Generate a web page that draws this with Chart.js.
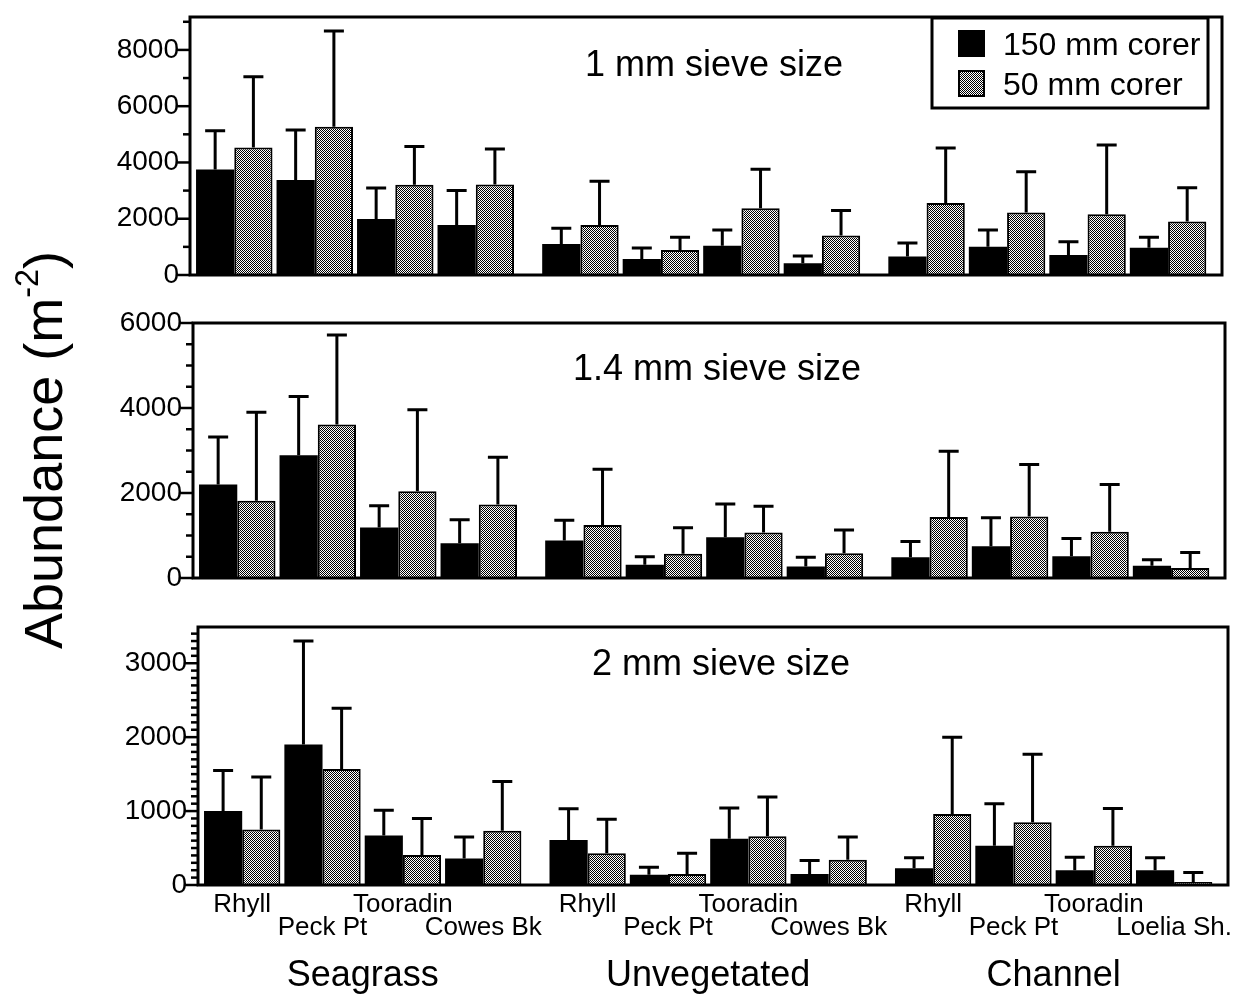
<!DOCTYPE html>
<html lang="en">
<head>
<meta charset="UTF-8" />
<title>Abundance by sieve size and corer</title>
<style>
  body { margin: 0; background: #fff; font-family: "Liberation Sans", Arial, sans-serif; }
  #wrap { position: relative; width: 1237px; height: 1003px; overflow: hidden; background: #fff; }
  canvas { position: absolute; left: 0; }
  #ylab {
    position: absolute; left: 43px; top: 450px;
    transform: translate(-50%, -50%) rotate(-90deg);
    font-size: 54px; white-space: nowrap; color: #000;
  }
  #ylab sup { font-size: 0.6em; vertical-align: 0.75em; line-height: 0; }
</style>
<script src="https://cdn.jsdelivr.net/npm/chart.js"></script>
</head>
<body>
<div id="wrap">
  <canvas id="c1" width="1237" height="295" style="top:0px"></canvas>
  <canvas id="c2" width="1237" height="295" style="top:298px"></canvas>
  <canvas id="c3" width="1237" height="403" style="top:600px"></canvas>
  <div id="ylab">Abundance (m<sup>-2</sup>)</div>
</div>
<script>
// sites along the x axis, grouped by habitat
const sites = ['Rhyll', 'Peck Pt', 'Tooradin', 'Cowes Bk',
               'Rhyll', 'Peck Pt', 'Tooradin', 'Cowes Bk',
               'Rhyll', 'Peck Pt', 'Tooradin', 'Loelia Sh.'];
const siteHabitat = [0, 0, 0, 0, 1, 1, 1, 1, 2, 2, 2, 2];
const habitats = ['Seagrass', 'Unvegetated', 'Channel'];
const corers = ['150 mm corer', '50 mm corer'];
const sieveTitles = ['1 mm sieve size', '1.4 mm sieve size', '2 mm sieve size'];

// 1 mm sieve
const mean1_150 = [3750, 3380, 1990, 1780, 1100, 570, 1040, 415, 660, 1000, 710, 970];
const err1_150  = [1380, 1770, 1100, 1220, 560, 390, 560, 260, 480, 600, 475, 370];
const mean1_50  = [4530, 5270, 3210, 3220, 1780, 890, 2370, 1400, 2560, 2220, 2160, 1900];
const err1_50   = [2520, 3400, 1360, 1260, 1550, 450, 1390, 890, 1950, 1450, 2460, 1200];

// 1.4 mm sieve
const mean14_150 = [2200, 2890, 1190, 820, 880, 310, 960, 270, 490, 745, 510, 290];
const err14_150  = [1120, 1380, 510, 550, 480, 190, 780, 220, 370, 675, 420, 140];
const mean14_50  = [1820, 3610, 2040, 1730, 1250, 570, 1070, 580, 1435, 1450, 1090, 235];
const err14_50   = [2080, 2110, 1920, 1110, 1310, 610, 620, 550, 1545, 1220, 1110, 365];

// 2 mm sieve
const mean2_150 = [1000, 1900, 670, 360, 610, 140, 625, 150, 225, 530, 200, 200];
const err2_150  = [550, 1400, 340, 290, 420, 100, 415, 180, 145, 570, 175, 170];
const mean2_50  = [750, 1570, 405, 735, 430, 150, 660, 340, 960, 850, 530, 40];
const err2_50   = [710, 820, 495, 665, 460, 280, 530, 310, 1040, 920, 505, 130];

// y axes: top of range, labelled step, tick step
const yAxisMax = [9170, 6000, 3490];
const yLabelStep = [2000, 2000, 1000];
const yTickStep = [1000, 500, 100];

const FONT = '"Liberation Sans", Arial, Helvetica, sans-serif';
Chart.defaults.font.family = FONT;
Chart.defaults.color = '#000';

// gap between habitat blocks, in site widths
const habitatGap = 0.3;
const xPos = sites.map((s, i) => i + siteHabitat[i] * habitatGap);

// stippled grey fill for the 50 mm corer
function stipple() {
  const c = document.createElement('canvas');
  c.width = 4; c.height = 4;
  const g = c.getContext('2d');
  g.fillStyle = '#fff';
  g.fillRect(0, 0, 4, 4);
  g.fillStyle = '#000';
  for (let y = 0; y < 4; y++)
    for (let x = 0; x < 4; x++)
      if ((x + y) % 2 === 0) g.fillRect(x, y, 1, 1);
  return g.createPattern(c, 'repeat');
}
const greyFill = stipple();

const decor = {
  id: 'decor',
  afterDatasetsDraw(chart) {
    const { ctx, scales: { y } } = chart;
    ctx.save();
    ctx.strokeStyle = '#000';
    ctx.lineWidth = 3;
    chart.data.datasets.forEach((ds, di) => {
      chart.getDatasetMeta(di).data.forEach((bar, i) => {
        const top = y.getPixelForValue(ds.data[i].y + ds.errors[i]);
        ctx.beginPath();
        ctx.moveTo(bar.x, bar.y);
        ctx.lineTo(bar.x, top);
        ctx.moveTo(bar.x - 10, top);
        ctx.lineTo(bar.x + 10, top);
        ctx.stroke();
      });
    });
    ctx.restore();
  },
  afterDraw(chart, args, o) {
    const { ctx, chartArea: a, scales: { x, y } } = chart;
    ctx.save();
    ctx.strokeStyle = '#000';
    ctx.lineWidth = 3;
    ctx.strokeRect(a.left, a.top, a.right - a.left, a.bottom - a.top);

    // y ticks, long on labelled values
    ctx.lineWidth = 2.5;
    y.ticks.forEach(t => {
      const py = y.getPixelForValue(t.value);
      const len = t.value % o.major === 0 ? 13 : 7;
      ctx.beginPath();
      ctx.moveTo(a.left - len, py);
      ctx.lineTo(a.left, py);
      ctx.stroke();
    });

    ctx.fillStyle = '#000';
    ctx.font = '36px ' + FONT;
    ctx.textAlign = 'center';
    ctx.textBaseline = 'alphabetic';
    ctx.fillText(o.title, (a.left + a.right) / 2 + 8, a.top + o.titleY);

    if (o.legend) {
      ctx.lineWidth = 3;
      ctx.strokeRect(932, 18, 276, 90);
      ctx.fillStyle = '#000';
      ctx.fillRect(958, 30, 27, 27);
      ctx.fillStyle = greyFill;
      ctx.fillRect(958, 70, 27, 27);
      ctx.lineWidth = 2;
      ctx.strokeRect(959, 71, 25, 25);
      ctx.fillStyle = '#000';
      ctx.textAlign = 'left';
      ctx.font = '32px ' + FONT;
      ctx.fillText(corers[0], 1003, 55);
      ctx.fillText(corers[1], 1003, 95);
    }

    if (o.habitatY) {
      ctx.textAlign = 'center';
      ctx.font = '36px ' + FONT;
      habitats.forEach((h, hi) => {
        const xs = xPos.filter((v, i) => siteHabitat[i] === hi);
        const cx = x.getPixelForValue((xs[0] + xs[xs.length - 1]) / 2);
        ctx.fillText(h, cx, o.habitatY);
      });
    }
    ctx.restore();
  }
};

function makePanel(p) {
  const yi = p.yi;
  new Chart(document.getElementById(p.id), {
    type: 'bar',
    data: {
      datasets: [
        {
          label: corers[0],
          data: xPos.map((v, i) => ({ x: v, y: p.means[0][i] })),
          errors: p.errs[0],
          backgroundColor: '#000',
          borderWidth: 0,
          barPercentage: 1,
          categoryPercentage: 0.95
        },
        {
          label: corers[1],
          data: xPos.map((v, i) => ({ x: v, y: p.means[1][i] })),
          errors: p.errs[1],
          backgroundColor: greyFill,
          borderColor: '#000',
          borderWidth: 2,
          barPercentage: 1,
          categoryPercentage: 0.95
        }
      ]
    },
    options: {
      responsive: false,
      animation: false,
      layout: { padding: p.pad },
      plugins: {
        legend: { display: false },
        tooltip: { enabled: false },
        decor: {
          title: sieveTitles[yi],
          titleY: p.titleY,
          major: yLabelStep[yi],
          legend: p.legend,
          habitatY: p.habitatY
        }
      },
      scales: {
        x: {
          type: 'linear',
          offset: false,
          min: -0.55,
          max: 12.27,
          display: p.siteLabels,
          afterBuildTicks: ax => { ax.ticks = xPos.map(v => ({ value: v })); },
          afterFit: s => {
            if (p.siteLabels) s.height = 60;
            s.paddingLeft = 0; s.paddingRight = 0;
          },
          grid: { display: false, drawTicks: false },
          border: { display: false },
          ticks: {
            autoSkip: false,
            maxRotation: 0,
            padding: 8,
            font: { size: 26, lineHeight: 0.9 },
            callback: (v, i) => i % 2 === 0 ? [sites[i], ''] : ['', sites[i]]
          }
        },
        y: {
          min: 0,
          max: yAxisMax[yi],
          afterFit: s => {
            s.width = p.axisW;
            s.paddingTop = 0; s.paddingBottom = 0;
          },
          afterBuildTicks: ax => {
            const t = [];
            for (let v = 0; v <= yAxisMax[yi]; v += yTickStep[yi]) t.push({ value: v });
            ax.ticks = t;
          },
          grid: { display: false, drawTicks: false },
          border: { display: false },
          ticks: {
            autoSkip: false,
            padding: 11,
            font: { size: 28 },
            callback: v => v % yLabelStep[yi] === 0 ? String(v) : ''
          }
        }
      }
    },
    plugins: [decor]
  });
}

makePanel({ id: 'c1', yi: 0, means: [mean1_150, mean1_50], errs: [err1_150, err1_50],
  axisW: 190, pad: { left: 0, right: 15, top: 17, bottom: 20 }, titleY: 59, legend: true, siteLabels: false });
makePanel({ id: 'c2', yi: 1, means: [mean14_150, mean14_50], errs: [err14_150, err14_50],
  axisW: 193, pad: { left: 0, right: 12, top: 25, bottom: 15 }, titleY: 57, legend: false, siteLabels: false });
makePanel({ id: 'c3', yi: 2, means: [mean2_150, mean2_50], errs: [err2_150, err2_50],
  axisW: 198, pad: { left: 0, right: 9, top: 27, bottom: 58 }, titleY: 48, legend: false, siteLabels: true, habitatY: 386 });
</script>
</body>
</html>
